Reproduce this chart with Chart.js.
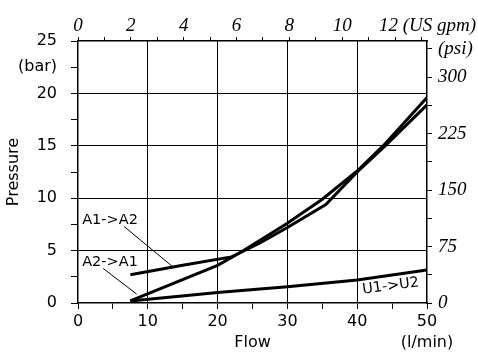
<!DOCTYPE html>
<html>
<head>
<meta charset="utf-8">
<script src="https://cdn.jsdelivr.net/npm/chart.js@4.4.0/dist/chart.umd.min.js"></script>
<style>
    html, body { margin: 0; padding: 0; background: #fff; }
    #wrap { width: 478px; height: 352px; }
</style>
</head>
<body>
<div id="wrap"><canvas id="pressure-chart" width="478" height="352"></canvas></div>
<script>
// curves (flow in l/min, pressure in bar)
const flowA1A2 = [7.5, 15, 22, 26, 30, 35.5, 40, 44, 50];
const pressureA1A2 = [2.7, 3.6, 4.4, 5.7, 7.2, 9.4, 12.5, 15.0, 18.9];
const flowA2A1 = [7.5, 20, 23.2, 30, 35, 40, 44, 50];
const pressureA2A1 = [0.2, 3.6, 4.8, 7.6, 9.9, 12.6, 15.2, 19.6];
const flowU1U2 = [7.5, 16, 20, 30, 40, 50];
const pressureU1U2 = [0.2, 0.75, 1.0, 1.55, 2.2, 3.15];

// axes
const flowTicks = [0, 10, 20, 30, 40, 50];
const barTicks = [0, 5, 10, 15, 20, 25];
const gpmTicks = [0, 2, 4, 6, 8, 10];
const psiTicks = [0, 75, 150, 225, 300];
const LPM_PER_GPM = 3.785;
const PSI_MAX = 348;

// curve names, drawn next to the lines: [text, flow, pressure, angle]
const curveNames = [
    ["A1->A2", 0.6, 7.9, 0],
    ["A2->A1", 0.6, 3.9, 0],
    ["U1->U2", 44.8, 1.6, -7.5]
];
// leader lines from the names to the curves: [flow1, p1, flow2, p2]
const leaders = [
    [6.6, 7.3, 13.5, 3.5],
    [3.6, 3.3, 8.4, 0.85]
];

const sans = "'DejaVu Sans', Verdana, sans-serif";
const serif = "'Liberation Serif', 'Times New Roman', serif";

function toPoints(xs, ys) {
    let pts = [];
    for (let i = 0; i < xs.length; i++) {
        pts.push({ x: xs[i], y: ys[i] });
    }
    return pts;
}

function lineSet(label, xs, ys) {
    return {
        label: label,
        data: toPoints(xs, ys),
        borderColor: "#000",
        borderWidth: 3,
        pointRadius: 0,
        tension: 0,
        fill: false,
        xAxisID: "x",
        yAxisID: "y"
    };
}

const labelsPlugin = {
    id: "curveLabels",
    afterDraw(chart) {
        let ctx = chart.ctx;
        let xs = chart.scales.x;
        let ys = chart.scales.y;
        ctx.save();
        ctx.fillStyle = "#000";
        ctx.strokeStyle = "#000";
        ctx.lineWidth = 1;
        for (let l of leaders) {
            ctx.beginPath();
            ctx.moveTo(xs.getPixelForValue(l[0]), ys.getPixelForValue(l[1]));
            ctx.lineTo(xs.getPixelForValue(l[2]), ys.getPixelForValue(l[3]));
            ctx.stroke();
        }
        ctx.font = "14.5px " + sans;
        ctx.textBaseline = "middle";
        for (let n of curveNames) {
            ctx.save();
            ctx.translate(xs.getPixelForValue(n[1]), ys.getPixelForValue(n[2]));
            ctx.rotate(n[3] * Math.PI / 180);
            ctx.textAlign = n[3] ? "center" : "left";
            ctx.fillText(n[0], 0, 0);
            ctx.restore();
        }
        // unit labels next to the tick labels
        ctx.font = "16px " + sans;
        ctx.textAlign = "center";
        ctx.fillText("(l/min)", xs.getPixelForValue(50), 343);
        let top = chart.scales.x2;
        ctx.font = "italic 19px " + serif;
        ctx.textAlign = "left";
        ctx.textBaseline = "alphabetic";
        ctx.fillText("12 (US gpm)", top.getPixelForValue(12) - 16, 31);
        ctx.restore();
    }
};

function fixSize(size, isWidth) {
    return function (scale) {
        if (isWidth) scale.width = size;
        else scale.height = size;
    };
}

new Chart(document.getElementById("pressure-chart"), {
    type: "line",
    data: {
        datasets: [
            lineSet("A1->A2", flowA1A2, pressureA1A2),
            lineSet("A2->A1", flowA2A1, pressureA2A1),
            lineSet("U1->U2", flowU1U2, pressureU1U2)
        ]
    },
    options: {
        responsive: false,
        animation: false,
        devicePixelRatio: 1,
        layout: { padding: 0 },
        plugins: {
            legend: { display: false },
            tooltip: { enabled: false }
        },
        scales: {
            x: {
                type: "linear",
                position: "bottom",
                min: 0,
                max: 50,
                afterFit: fixSize(49, false),
                border: { color: "#000", width: 1.5 },
                grid: {
                    color: (c) => (c.tick && c.tick.value % 10 === 0 && c.tick.value > 0 && c.tick.value < 50) ? "#000" : "rgba(0,0,0,0)",
                    tickColor: "#000",
                    tickLength: 6
                },
                ticks: {
                    stepSize: 5,
                    autoSkip: false,
                    maxRotation: 0,
                    padding: 3,
                    color: "#000",
                    font: { family: sans, size: 16 },
                    callback: (v) => flowTicks.indexOf(v) > -1 ? String(v) : ""
                },
                title: {
                    display: true,
                    text: "Flow",
                    color: "#000",
                    font: { family: sans, size: 16 },
                    padding: { top: 0, bottom: 0 }
                }
            },
            x2: {
                type: "linear",
                position: "top",
                min: 0,
                max: 50 / LPM_PER_GPM,
                afterFit: fixSize(41, false),
                border: { color: "#000", width: 1.5 },
                grid: { drawOnChartArea: false, tickColor: "#000", tickLength: 4 },
                ticks: {
                    stepSize: 1,
                    includeBounds: false,
                    autoSkip: false,
                    maxRotation: 0,
                    padding: 0,
                    color: "#000",
                    font: { family: serif, size: 19, style: "italic" },
                    callback: (v) => gpmTicks.indexOf(v) > -1 ? String(v) : ""
                }
            },
            y: {
                type: "linear",
                position: "left",
                min: 0,
                max: 25,
                afterFit: fixSize(78, true),
                border: { color: "#000", width: 1.5 },
                grid: {
                    color: (c) => (c.tick && c.tick.value % 5 === 0 && c.tick.value > 0 && c.tick.value < 25) ? "#000" : "rgba(0,0,0,0)",
                    tickColor: "#000",
                    tickLength: 7
                },
                ticks: {
                    stepSize: 2.5,
                    autoSkip: false,
                    padding: 14,
                    color: "#000",
                    font: { family: sans, size: 16 },
                    callback: (v) => barTicks.indexOf(v) > -1 ? String(v) : (v === 22.5 ? "(bar)" : "")
                },
                title: {
                    display: true,
                    text: "Pressure",
                    color: "#000",
                    font: { family: sans, size: 16 },
                    padding: { top: 4, bottom: 0 }
                }
            },
            y2: {
                type: "linear",
                position: "right",
                min: 0,
                max: PSI_MAX,
                afterFit: fixSize(51, true),
                border: { color: "#000", width: 1.5 },
                grid: { drawOnChartArea: false, tickColor: "#000", tickLength: 5 },
                ticks: {
                    stepSize: 37.5,
                    includeBounds: false,
                    autoSkip: false,
                    padding: 6,
                    color: "#000",
                    font: { family: serif, size: 19, style: "italic" },
                    callback: (v) => psiTicks.indexOf(v) > -1 ? String(v) : (v === 337.5 ? "(psi)" : "")
                }
            }
        }
    },
    plugins: [labelsPlugin]
});
</script>
</body>
</html>
